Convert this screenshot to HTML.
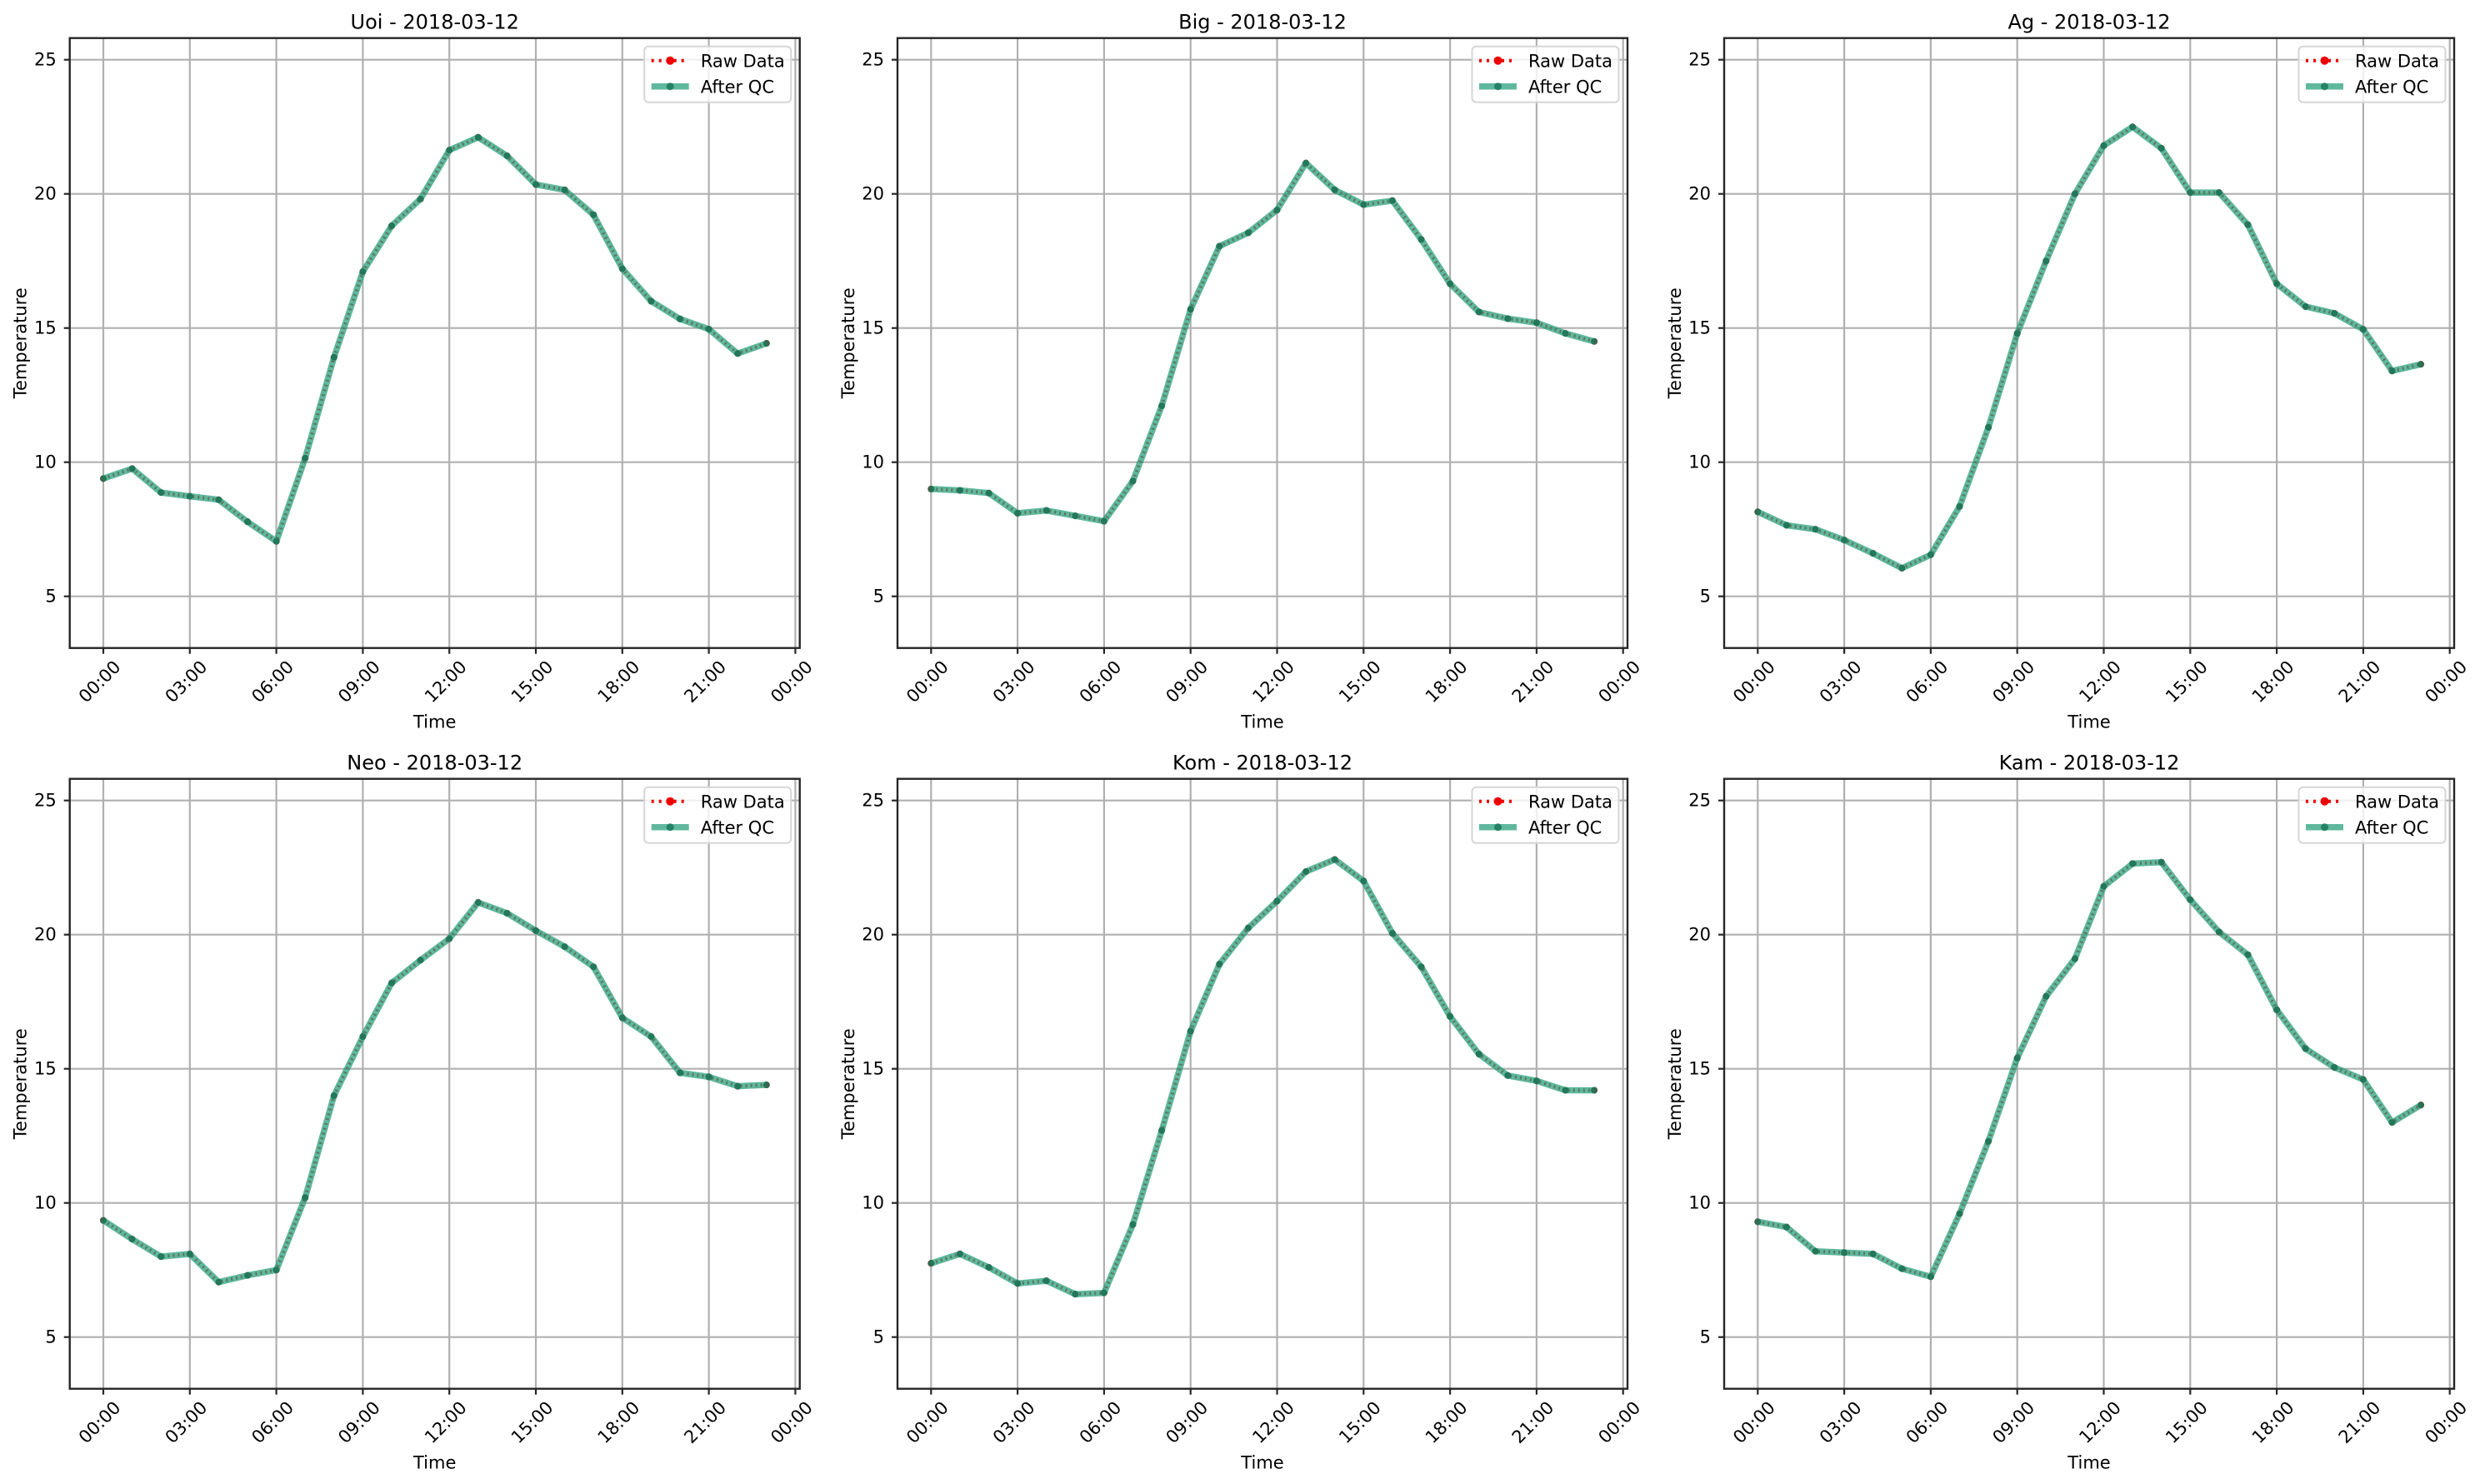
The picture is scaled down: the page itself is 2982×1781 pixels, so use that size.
<!DOCTYPE html>
<html><head><meta charset="utf-8">
<style>
html,body{margin:0;padding:0;background:#fff;}
svg{display:block;font-family:"DejaVu Sans","Liberation Sans",sans-serif;}
.t{font-size:24px;fill:#000;text-anchor:middle;}
.yl{font-size:21px;fill:#000;text-anchor:end;}
.xl{font-size:21px;fill:#000;text-anchor:end;}
.al{font-size:21px;fill:#000;text-anchor:middle;}
.lg{font-size:21px;fill:#000;}
</style></head>
<body>
<svg id="s" width="2982" height="1781" viewBox="0 0 2982 1781" xmlns="http://www.w3.org/2000/svg">
<rect width="2982" height="1781" fill="#fff"/>

<g id="p0" transform="translate(83.7,45.7)">
<g class="plot"></g>
<text class="t" x="438" y="-11">Uoi - 2018-03-12</text>
<text class="yl" x="-16" y="33">25</text><text class="yl" x="-16" y="194">20</text><text class="yl" x="-16" y="355">15</text><text class="yl" x="-16" y="516">10</text><text class="yl" x="-16" y="677">5</text>
<text class="xl" transform="rotate(-45 62.3 756)" x="62.3" y="756">00:00</text><text class="xl" transform="rotate(-45 166.1 756)" x="166.1" y="756">03:00</text><text class="xl" transform="rotate(-45 269.9 756)" x="269.9" y="756">06:00</text><text class="xl" transform="rotate(-45 373.7 756)" x="373.7" y="756">09:00</text><text class="xl" transform="rotate(-45 477.5 756)" x="477.5" y="756">12:00</text><text class="xl" transform="rotate(-45 581.3 756)" x="581.3" y="756">15:00</text><text class="xl" transform="rotate(-45 685.1 756)" x="685.1" y="756">18:00</text><text class="xl" transform="rotate(-45 788.9 756)" x="788.9" y="756">21:00</text><text class="xl" transform="rotate(-45 892.7 756)" x="892.7" y="756">00:00</text>
<text class="al" x="438" y="828">Time</text>
<text class="al" transform="rotate(-90 -52 366)" x="-52" y="366">Temperature</text>
<text class="lg" x="757" y="35">Raw Data</text><text class="lg" x="757" y="66">After QC</text>
</g>

<g id="p1" transform="translate(1077,45.7)">
<g class="plot"></g>
<text class="t" x="438" y="-11">Big - 2018-03-12</text>
<text class="yl" x="-16" y="33">25</text><text class="yl" x="-16" y="194">20</text><text class="yl" x="-16" y="355">15</text><text class="yl" x="-16" y="516">10</text><text class="yl" x="-16" y="677">5</text>
<text class="xl" transform="rotate(-45 62.3 756)" x="62.3" y="756">00:00</text><text class="xl" transform="rotate(-45 166.1 756)" x="166.1" y="756">03:00</text><text class="xl" transform="rotate(-45 269.9 756)" x="269.9" y="756">06:00</text><text class="xl" transform="rotate(-45 373.7 756)" x="373.7" y="756">09:00</text><text class="xl" transform="rotate(-45 477.5 756)" x="477.5" y="756">12:00</text><text class="xl" transform="rotate(-45 581.3 756)" x="581.3" y="756">15:00</text><text class="xl" transform="rotate(-45 685.1 756)" x="685.1" y="756">18:00</text><text class="xl" transform="rotate(-45 788.9 756)" x="788.9" y="756">21:00</text><text class="xl" transform="rotate(-45 892.7 756)" x="892.7" y="756">00:00</text>
<text class="al" x="438" y="828">Time</text>
<text class="al" transform="rotate(-90 -52 366)" x="-52" y="366">Temperature</text>
<text class="lg" x="757" y="35">Raw Data</text><text class="lg" x="757" y="66">After QC</text>
</g>

<g id="p2" transform="translate(2069,45.7)">
<g class="plot"></g>
<text class="t" x="438" y="-11">Ag - 2018-03-12</text>
<text class="yl" x="-16" y="33">25</text><text class="yl" x="-16" y="194">20</text><text class="yl" x="-16" y="355">15</text><text class="yl" x="-16" y="516">10</text><text class="yl" x="-16" y="677">5</text>
<text class="xl" transform="rotate(-45 62.3 756)" x="62.3" y="756">00:00</text><text class="xl" transform="rotate(-45 166.1 756)" x="166.1" y="756">03:00</text><text class="xl" transform="rotate(-45 269.9 756)" x="269.9" y="756">06:00</text><text class="xl" transform="rotate(-45 373.7 756)" x="373.7" y="756">09:00</text><text class="xl" transform="rotate(-45 477.5 756)" x="477.5" y="756">12:00</text><text class="xl" transform="rotate(-45 581.3 756)" x="581.3" y="756">15:00</text><text class="xl" transform="rotate(-45 685.1 756)" x="685.1" y="756">18:00</text><text class="xl" transform="rotate(-45 788.9 756)" x="788.9" y="756">21:00</text><text class="xl" transform="rotate(-45 892.7 756)" x="892.7" y="756">00:00</text>
<text class="al" x="438" y="828">Time</text>
<text class="al" transform="rotate(-90 -52 366)" x="-52" y="366">Temperature</text>
<text class="lg" x="757" y="35">Raw Data</text><text class="lg" x="757" y="66">After QC</text>
</g>

<g id="p3" transform="translate(83.7,934.7)">
<g class="plot"></g>
<text class="t" x="438" y="-11">Neo - 2018-03-12</text>
<text class="yl" x="-16" y="33">25</text><text class="yl" x="-16" y="194">20</text><text class="yl" x="-16" y="355">15</text><text class="yl" x="-16" y="516">10</text><text class="yl" x="-16" y="677">5</text>
<text class="xl" transform="rotate(-45 62.3 756)" x="62.3" y="756">00:00</text><text class="xl" transform="rotate(-45 166.1 756)" x="166.1" y="756">03:00</text><text class="xl" transform="rotate(-45 269.9 756)" x="269.9" y="756">06:00</text><text class="xl" transform="rotate(-45 373.7 756)" x="373.7" y="756">09:00</text><text class="xl" transform="rotate(-45 477.5 756)" x="477.5" y="756">12:00</text><text class="xl" transform="rotate(-45 581.3 756)" x="581.3" y="756">15:00</text><text class="xl" transform="rotate(-45 685.1 756)" x="685.1" y="756">18:00</text><text class="xl" transform="rotate(-45 788.9 756)" x="788.9" y="756">21:00</text><text class="xl" transform="rotate(-45 892.7 756)" x="892.7" y="756">00:00</text>
<text class="al" x="438" y="828">Time</text>
<text class="al" transform="rotate(-90 -52 366)" x="-52" y="366">Temperature</text>
<text class="lg" x="757" y="35">Raw Data</text><text class="lg" x="757" y="66">After QC</text>
</g>

<g id="p4" transform="translate(1077,934.7)">
<g class="plot"></g>
<text class="t" x="438" y="-11">Kom - 2018-03-12</text>
<text class="yl" x="-16" y="33">25</text><text class="yl" x="-16" y="194">20</text><text class="yl" x="-16" y="355">15</text><text class="yl" x="-16" y="516">10</text><text class="yl" x="-16" y="677">5</text>
<text class="xl" transform="rotate(-45 62.3 756)" x="62.3" y="756">00:00</text><text class="xl" transform="rotate(-45 166.1 756)" x="166.1" y="756">03:00</text><text class="xl" transform="rotate(-45 269.9 756)" x="269.9" y="756">06:00</text><text class="xl" transform="rotate(-45 373.7 756)" x="373.7" y="756">09:00</text><text class="xl" transform="rotate(-45 477.5 756)" x="477.5" y="756">12:00</text><text class="xl" transform="rotate(-45 581.3 756)" x="581.3" y="756">15:00</text><text class="xl" transform="rotate(-45 685.1 756)" x="685.1" y="756">18:00</text><text class="xl" transform="rotate(-45 788.9 756)" x="788.9" y="756">21:00</text><text class="xl" transform="rotate(-45 892.7 756)" x="892.7" y="756">00:00</text>
<text class="al" x="438" y="828">Time</text>
<text class="al" transform="rotate(-90 -52 366)" x="-52" y="366">Temperature</text>
<text class="lg" x="757" y="35">Raw Data</text><text class="lg" x="757" y="66">After QC</text>
</g>

<g id="p5" transform="translate(2069,934.7)">
<g class="plot"></g>
<text class="t" x="438" y="-11">Kam - 2018-03-12</text>
<text class="yl" x="-16" y="33">25</text><text class="yl" x="-16" y="194">20</text><text class="yl" x="-16" y="355">15</text><text class="yl" x="-16" y="516">10</text><text class="yl" x="-16" y="677">5</text>
<text class="xl" transform="rotate(-45 62.3 756)" x="62.3" y="756">00:00</text><text class="xl" transform="rotate(-45 166.1 756)" x="166.1" y="756">03:00</text><text class="xl" transform="rotate(-45 269.9 756)" x="269.9" y="756">06:00</text><text class="xl" transform="rotate(-45 373.7 756)" x="373.7" y="756">09:00</text><text class="xl" transform="rotate(-45 477.5 756)" x="477.5" y="756">12:00</text><text class="xl" transform="rotate(-45 581.3 756)" x="581.3" y="756">15:00</text><text class="xl" transform="rotate(-45 685.1 756)" x="685.1" y="756">18:00</text><text class="xl" transform="rotate(-45 788.9 756)" x="788.9" y="756">21:00</text><text class="xl" transform="rotate(-45 892.7 756)" x="892.7" y="756">00:00</text>
<text class="al" x="438" y="828">Time</text>
<text class="al" transform="rotate(-90 -52 366)" x="-52" y="366">Temperature</text>
<text class="lg" x="757" y="35">Raw Data</text><text class="lg" x="757" y="66">After QC</text>
</g>
</svg>
<script>
var D=[
[9.39,9.76,8.87,8.73,8.6,7.78,7.05,10.15,13.91,17.1,18.81,19.81,21.63,22.11,21.42,20.35,20.15,19.22,17.21,16.0,15.34,14.96,14.05,14.43],
[9.0,8.95,8.85,8.1,8.2,8.0,7.8,9.3,12.1,15.7,18.05,18.55,19.4,21.15,20.15,19.6,19.75,18.3,16.65,15.6,15.35,15.2,14.8,14.5],
[8.15,7.65,7.5,7.1,6.6,6.05,6.55,8.35,11.3,14.8,17.5,20.0,21.8,22.5,21.7,20.05,20.05,18.85,16.65,15.8,15.55,14.95,13.4,13.65],
[9.35,8.65,8.0,8.1,7.05,7.3,7.5,10.2,14.0,16.2,18.2,19.05,19.85,21.2,20.8,20.15,19.55,18.8,16.9,16.2,14.85,14.7,14.35,14.4],
[7.75,8.1,7.6,7.0,7.1,6.6,6.65,9.2,12.7,16.4,18.9,20.25,21.25,22.35,22.8,22.0,20.05,18.8,16.95,15.55,14.75,14.55,14.2,14.2],
[9.3,9.1,8.2,8.15,8.1,7.55,7.25,9.6,12.3,15.4,17.7,19.1,21.8,22.65,22.7,21.3,20.1,19.25,17.2,15.75,15.05,14.6,13.0,13.65]];
function X(h){return 40.3+34.6*h;}
function Y(v){return 26+(25-v)*32.2;}
var GC='rgba(42,160,125,0.75)', MC='rgba(25,120,90,0.85)';
for(var p=0;p<6;p++){
 var g=document.querySelector('#p'+p+' .plot');
 var s='';
 for(var i=0;i<9;i++){var x=X(i*3);s+='<line x1="'+x+'" y1="0" x2="'+x+'" y2="732" stroke="#b0b0b0" stroke-width="2.2"/>';
   s+='<line x1="'+x+'" y1="732" x2="'+x+'" y2="739" stroke="#262626" stroke-width="2.2"/>';}
 for(var v=5;v<=25;v+=5){var y=Y(v);s+='<line x1="0" y1="'+y+'" x2="876" y2="'+y+'" stroke="#b0b0b0" stroke-width="2.2"/>';
   s+='<line x1="-7" y1="'+y+'" x2="0" y2="'+y+'" stroke="#262626" stroke-width="2.2"/>';}
 var pts=D[p].map(function(v,h){return X(h).toFixed(1)+','+Y(v).toFixed(1);}).join(' ');
 s+='<polyline points="'+pts+'" fill="none" stroke="#e00" stroke-width="4" stroke-dasharray="2 4"/>';
 D[p].forEach(function(v,h){s+='<circle cx="'+X(h)+'" cy="'+Y(v)+'" r="4" fill="#e00"/>';});
 s+='<polyline points="'+pts+'" fill="none" stroke="'+GC+'" stroke-width="7.5" stroke-linejoin="round"/>';
 D[p].forEach(function(v,h){s+='<circle cx="'+X(h)+'" cy="'+Y(v)+'" r="4" fill="'+MC+'"/>';});
 s+='<rect x="0" y="0" width="876" height="732" fill="none" stroke="#262626" stroke-width="2.4"/>';
 s+='<rect x="689.5" y="10" width="176" height="67" rx="5" fill="rgba(255,255,255,0.8)" stroke="#d6d6d6" stroke-width="2"/>';
 s+='<line x1="698" y1="27" x2="743" y2="27" stroke="#e00" stroke-width="4" stroke-dasharray="3 6"/><circle cx="720.5" cy="27" r="5" fill="#e00"/>';
 s+='<line x1="698" y1="58" x2="743" y2="58" stroke="'+GC+'" stroke-width="7.5"/><circle cx="720.5" cy="58" r="4.5" fill="'+MC+'"/>';
 g.innerHTML=s;
}
</script>
</body></html>
